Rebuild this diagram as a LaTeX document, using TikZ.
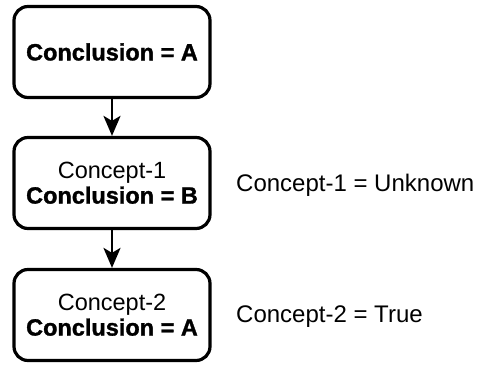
\documentclass[tikz,border=0pt]{standalone}
\usepackage{fontspec}
\setmainfont{Liberation Sans}[BoldFeatures={FakeBold=1.3}]
\usetikzlibrary{arrows.meta}
\begin{document}
\begin{tikzpicture}[x=1pt,y=-1pt,
  box/.style={draw, line width=3.2pt, rounded corners=14pt, minimum width=196pt, minimum height=91pt,
    align=center, inner sep=0pt, font=\fontsize{23.5}{25}\selectfont},
  lbl/.style={anchor=west, inner sep=0pt, font=\fontsize{24}{26}\selectfont},
  conn/.style={line width=2.6pt, -{Stealth[length=20pt,width=17pt,inset=5pt]}}]
\useasboundingbox (0,0) rectangle (477,369);
\node[box] (b1) at (112,52) {\bfseries Conclusion = A};
\node[box] (b2) at (112,183) {Concept-1\\\bfseries Conclusion = B};
\node[box] (b3) at (112,315) {Concept-2\\\bfseries Conclusion = A};
\node[lbl] (l1) at (236,185) {Concept-1 = Unknown};
\node[lbl] (l2) at (236,317) {Concept-2 = True};
\draw[conn] (b1) -- (b2);
\draw[conn] (b2) -- (b3);
\end{tikzpicture}
\end{document}
